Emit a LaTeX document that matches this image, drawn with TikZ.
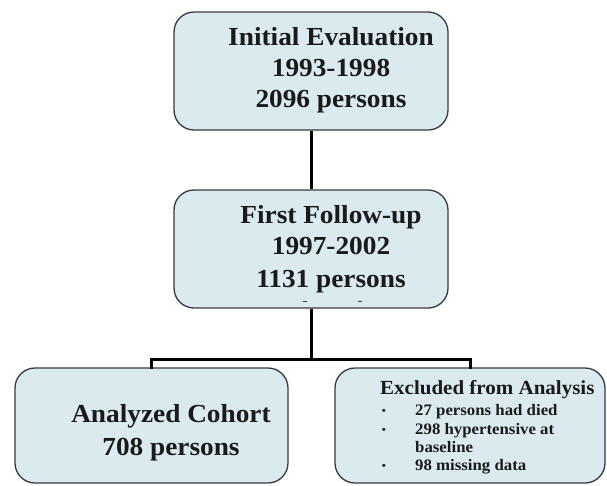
\documentclass[tikz,border=0pt]{standalone}
\usepackage{fontspec}
\newfontfamily\bfont{Liberation Serif Bold}[FakeStretch=1.05]
\definecolor{boxfill}{HTML}{DAEAEF}
\definecolor{boxline}{HTML}{3A3A3A}
\definecolor{txt}{HTML}{1A1A1A}
\begin{document}
\begin{tikzpicture}[x=1pt,y=-1pt,
  stagebox/.style={draw=boxline,fill=boxfill,line width=1.3pt,rounded corners=20pt,inner sep=0pt},
  bigtxt/.style={anchor=base,inner sep=0pt,text=txt,font=\bfont\fontsize{26}{31}\selectfont},
  midtxt/.style={anchor=base west,inner sep=0pt,text=txt,font=\bfont\fontsize{20}{24}\selectfont},
  smalltxt/.style={anchor=base west,inner sep=0pt,text=txt,font=\bfont\fontsize{16}{19}\selectfont},
  bul/.style={anchor=base,inner sep=0pt,text=txt,font=\bfont\fontsize{11}{13}\selectfont},
  conn/.style={draw=black,line width=3pt}]
\useasboundingbox (0,0) rectangle (607,485);
% boxes
\node[stagebox,minimum width=274pt,minimum height=118pt] (init) at (311,71) {};
\node[stagebox,minimum width=274pt,minimum height=118pt] (follow) at (311,249) {};
\node[stagebox,minimum width=273pt,minimum height=115pt] (cohort) at (151.5,425.5) {};
\node[stagebox,minimum width=270pt,minimum height=115pt] (excl) at (470,425.5) {};
% connectors
\coordinate (j) at (311,359.5);
\draw[conn] (init.south) -- (follow.north);
\draw[conn] (follow.south) -- (j);
\draw[conn,line cap=rect] (j) -| (cohort.north);
\draw[conn,line cap=rect] (j) -| (excl.north);
% texts
\node[bigtxt] (i1) at (331,45) {Initial Evaluation};
\node[bigtxt] (i2) at (331,76) {1993-1998};
\node[bigtxt] (i3) at (331,107) {2096 persons};
\node[bigtxt] (f1) at (331,223) {First Follow-up};
\node[bigtxt] (f2) at (331,254) {1997-2002};
\node[bigtxt] (f3) at (331,287) {1131 persons};
\node[bigtxt] (c1) at (171,422) {Analyzed Cohort};
\node[bigtxt] (c2) at (171,455) {708 persons};
\node[midtxt] (e0) at (380,394) {Excluded from Analysis};
\node[bul] (b1) at (384,414) {•};
\node[smalltxt] (e1) at (415,415) {27 persons had died};
\node[bul] (b2) at (384,433) {•};
\node[smalltxt] (e2) at (415,434) {298 hypertensive at};
\node[smalltxt] (e3) at (415,452) {baseline};
\node[bul] (b4) at (384,469) {•};
\node[smalltxt] (e4) at (415,470) {98 missing data};
% small marks
\draw[boxline,line width=0.8pt] (303,301) -- (307,301);
\draw[boxline,line width=0.8pt] (358,301) -- (362,301);
\end{tikzpicture}
\end{document}
